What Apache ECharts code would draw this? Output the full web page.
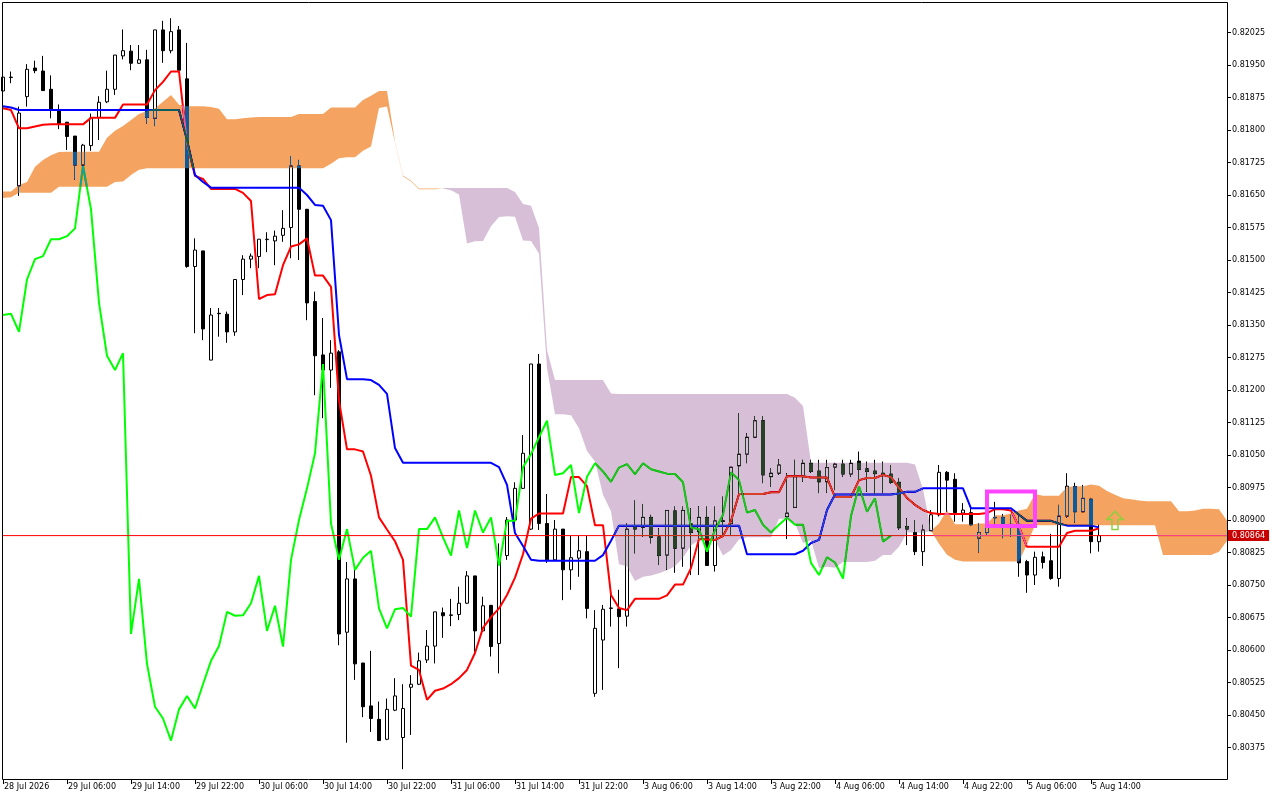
<!DOCTYPE html>
<html><head><meta charset="utf-8">
<script src="https://cdn.jsdelivr.net/npm/echarts@6/dist/echarts.min.js"></script>
<style>html,body{margin:0;padding:0;background:#fff}#c{width:1280px;height:800px}</style>
</head><body><div id="c"></div>
<script>
// ---- time axis ----
const tickLabels = ['28 Jul 2026','29 Jul 06:00','29 Jul 14:00','29 Jul 22:00','30 Jul 06:00','30 Jul 14:00','30 Jul 22:00','31 Jul 06:00','31 Jul 14:00','31 Jul 22:00','3 Aug 06:00','3 Aug 14:00','3 Aug 22:00','4 Aug 06:00','4 Aug 14:00','4 Aug 22:00','5 Aug 06:00','5 Aug 14:00'];
const barsPerLabel = 8;
const futureBars = 16;

// ---- OHLC (H1) ----
const open = [0.81890,0.81922,0.81671,0.81877,0.81943,0.81936,0.81894,0.81845,0.81818,0.81786,
0.81719,0.81764,0.81829,0.81865,0.81894,0.81971,0.81982,0.81954,0.81962,0.81827,
0.82031,0.81983,0.82031,0.81918,0.81485,0.81521,0.81269,0.81377,0.81375,0.81334,
0.81455,0.81502,0.81508,0.81547,0.81544,0.81557,0.81575,0.81717,0.81617,0.81404,
0.81281,0.81246,0.81288,0.80641,0.80764,0.80570,0.80471,0.80440,0.80394,0.80461,
0.80398,0.80514,0.80521,0.80577,0.80609,0.80686,0.80681,0.80682,0.80708,0.80771,
0.80644,0.80703,0.80615,0.80818,0.80900,0.80973,0.80879,0.81260,0.80892,0.80808,
0.80879,0.80785,0.80812,0.80827,0.80500,0.80623,0.80696,0.80695,0.80678,0.80884,
0.80883,0.80906,0.80861,0.80819,0.80921,0.80835,0.80891,0.80873,0.80906,0.80795,
0.80897,0.80892,0.81025,0.81052,0.81091,0.81129,0.81000,0.81008,0.80908,0.80929,
0.81000,0.81031,0.81013,0.80988,0.81022,0.81029,0.81006,0.81036,0.81018,0.81013,
0.81008,0.81006,0.80987,0.80885,0.80871,0.80827,0.80875,0.80912,0.81010,0.80994,
0.80916,0.80917,0.80858,0.80871,0.80906,0.80906,0.80890,0.80890,0.80804,0.80773,
0.80815,0.80806,0.80765,0.80909,0.80977,0.80919,0.80948,0.80850];
const high = [0.81927,0.81935,0.81854,0.81952,0.81960,0.81971,0.81926,0.81859,0.81818,0.81786,
0.81768,0.81838,0.81878,0.81937,0.81973,0.82032,0.81996,0.81996,0.81985,0.82031,
0.82052,0.82058,0.82040,0.82001,0.81550,0.81521,0.81389,0.81389,0.81381,0.81456,
0.81511,0.81515,0.81548,0.81564,0.81568,0.81615,0.81740,0.81731,0.81618,0.81427,
0.81366,0.81315,0.81292,0.80803,0.80785,0.80570,0.80598,0.80481,0.80488,0.80535,
0.80521,0.80542,0.80594,0.80646,0.80688,0.80698,0.80718,0.80746,0.80782,0.80771,
0.80723,0.80704,0.80846,0.80907,0.80987,0.81096,0.81260,0.81283,0.80960,0.80900,
0.80879,0.80863,0.80863,0.80863,0.80692,0.80704,0.80739,0.80739,0.80892,0.80945,
0.80937,0.80912,0.80881,0.80923,0.80931,0.80931,0.80927,0.80932,0.80931,0.80931,
0.80954,0.81022,0.81146,0.81100,0.81140,0.81140,0.81019,0.81040,0.81008,0.81039,
0.81039,0.81039,0.81039,0.81039,0.81032,0.81039,0.81039,0.81058,0.81035,0.81039,
0.81035,0.81027,0.80997,0.80904,0.80900,0.80889,0.80923,0.81027,0.81013,0.81008,
0.80939,0.80931,0.80892,0.80916,0.80942,0.80914,0.80912,0.80909,0.80808,0.80827,
0.80827,0.80868,0.80935,0.81008,0.80986,0.80981,0.80951,0.80889];
const low = [0.81885,0.81908,0.81648,0.81854,0.81931,0.81890,0.81827,0.81802,0.81754,0.81685,
0.81717,0.81752,0.81777,0.81862,0.81881,0.81963,0.81938,0.81953,0.81815,0.81809,
0.81955,0.81977,0.81938,0.81482,0.81331,0.81315,0.81269,0.81323,0.81309,0.81325,
0.81419,0.81481,0.81481,0.81518,0.81488,0.81542,0.81504,0.81500,0.81361,0.81188,
0.81135,0.81205,0.80611,0.80386,0.80531,0.80445,0.80411,0.80390,0.80392,0.80459,
0.80325,0.80404,0.80519,0.80570,0.80569,0.80628,0.80655,0.80669,0.80706,0.80596,
0.80642,0.80585,0.80546,0.80808,0.80877,0.80972,0.80877,0.80877,0.80801,0.80805,
0.80715,0.80739,0.80769,0.80673,0.80492,0.80508,0.80654,0.80558,0.80654,0.80823,
0.80861,0.80846,0.80796,0.80785,0.80778,0.80792,0.80773,0.80773,0.80794,0.80781,
0.80865,0.80865,0.80958,0.81031,0.81089,0.80985,0.80977,0.81004,0.80856,0.80928,
0.80988,0.81009,0.80962,0.80963,0.80969,0.81000,0.81000,0.80992,0.80965,0.80958,
0.80962,0.80983,0.80877,0.80842,0.80819,0.80794,0.80875,0.80908,0.80919,0.80896,
0.80896,0.80886,0.80825,0.80865,0.80892,0.80858,0.80861,0.80769,0.80732,0.80750,
0.80788,0.80762,0.80746,0.80905,0.80894,0.80918,0.80823,0.80827];
const close = [0.81922,0.81921,0.81839,0.81940,0.81937,0.81891,0.81845,0.81814,0.81785,0.81719,
0.81765,0.81828,0.81864,0.81894,0.81973,0.81983,0.81954,0.81962,0.81829,0.82031,
0.81983,0.82027,0.81938,0.81485,0.81523,0.81341,0.81373,0.81376,0.81334,0.81455,
0.81502,0.81509,0.81548,0.81548,0.81555,0.81573,0.81717,0.81617,0.81401,0.81279,
0.81246,0.81285,0.80637,0.80764,0.80568,0.80469,0.80442,0.80391,0.80463,0.80494,
0.80465,0.80521,0.80575,0.80609,0.80688,0.80679,0.80680,0.80708,0.80771,0.80644,
0.80702,0.80608,0.80808,0.80900,0.80973,0.81054,0.81260,0.80892,0.80808,0.80879,
0.80785,0.80813,0.80829,0.80696,0.80650,0.80694,0.80697,0.80677,0.80879,0.80879,
0.80906,0.80860,0.80818,0.80922,0.80835,0.80922,0.80871,0.80906,0.80795,0.80898,
0.80898,0.81022,0.81052,0.81091,0.81129,0.81004,0.81008,0.81027,0.80916,0.81000,
0.81031,0.81012,0.80988,0.81021,0.81029,0.81006,0.81031,0.81017,0.81012,0.81007,
0.81006,0.80987,0.80882,0.80879,0.80827,0.80877,0.80912,0.81010,0.80992,0.80917,
0.80923,0.80889,0.80871,0.80889,0.80905,0.80889,0.80889,0.80801,0.80773,0.80814,
0.80802,0.80765,0.80909,0.80978,0.80919,0.80950,0.80850,0.80864];

// ---- Ichimoku lines ----
const tenkan = [0.81850,0.81846,0.81804,0.81804,0.81808,0.81812,0.81813,0.81813,0.81813,0.81813,
0.81813,0.81828,0.81828,0.81828,0.81828,0.81859,0.81859,0.81859,0.81859,0.81892,
0.81911,0.81935,0.81935,0.81770,0.81694,0.81687,0.81664,0.81664,0.81664,0.81664,
0.81655,0.81636,0.81410,0.81419,0.81421,0.81488,0.81531,0.81536,0.81550,0.81464,
0.81464,0.81438,0.81176,0.81063,0.81063,0.81058,0.81002,0.80906,0.80878,0.80851,
0.80808,0.80564,0.80554,0.80485,0.80506,0.80511,0.80521,0.80535,0.80554,0.80593,
0.80651,0.80676,0.80696,0.80727,0.80767,0.80821,0.80903,0.80915,0.80915,0.80915,
0.80915,0.80999,0.80999,0.80978,0.80888,0.80888,0.80727,0.80697,0.80692,0.80718,
0.80718,0.80718,0.80718,0.80726,0.80751,0.80751,0.80789,0.80856,0.80855,0.80854,
0.80863,0.80898,0.80960,0.80960,0.80960,0.80960,0.80964,0.80964,0.81001,0.81001,
0.81001,0.80998,0.80998,0.80998,0.80953,0.80953,0.80953,0.80992,0.80997,0.80997,
0.81004,0.80999,0.80974,0.80951,0.80935,0.80923,0.80916,0.80914,0.80914,0.80914,
0.80914,0.80914,0.80914,0.80916,0.80925,0.80925,0.80922,0.80884,0.80838,0.80838,
0.80838,0.80838,0.80838,0.80870,0.80875,0.80875,0.80875,0.80881];
const kijun = [0.81855,0.81852,0.81846,0.81846,0.81846,0.81846,0.81846,0.81846,0.81846,0.81846,
0.81846,0.81846,0.81846,0.81846,0.81846,0.81846,0.81846,0.81846,0.81846,0.81846,
0.81846,0.81846,0.81846,0.81777,0.81696,0.81680,0.81667,0.81667,0.81667,0.81667,
0.81667,0.81667,0.81667,0.81667,0.81667,0.81667,0.81667,0.81667,0.81650,0.81627,
0.81625,0.81592,0.81327,0.81225,0.81225,0.81225,0.81223,0.81212,0.81191,0.81066,
0.81032,0.81032,0.81032,0.81032,0.81032,0.81032,0.81032,0.81032,0.81032,0.81032,
0.81032,0.81032,0.81022,0.80981,0.80870,0.80840,0.80808,0.80806,0.80806,0.80806,
0.80806,0.80806,0.80806,0.80806,0.80806,0.80819,0.80852,0.80887,0.80887,0.80887,
0.80887,0.80887,0.80887,0.80887,0.80887,0.80887,0.80887,0.80887,0.80887,0.80887,
0.80887,0.80887,0.80887,0.80821,0.80821,0.80821,0.80821,0.80821,0.80821,0.80821,
0.80829,0.80847,0.80854,0.80923,0.80959,0.80959,0.80959,0.80959,0.80959,0.80959,
0.80959,0.80959,0.80961,0.80965,0.80965,0.80973,0.80973,0.80973,0.80973,0.80973,
0.80973,0.80927,0.80927,0.80927,0.80927,0.80927,0.80927,0.80912,0.80898,0.80898,
0.80898,0.80898,0.80892,0.80887,0.80887,0.80887,0.80887,0.80883];
const senkouA = [0.81658,0.81658,0.81673,0.81680,0.81715,0.81731,0.81742,0.81749,0.81750,0.81750,
0.81750,0.81750,0.81750,0.81782,0.81798,0.81809,0.81823,0.81837,0.81844,0.81850,
0.81865,0.81881,0.81858,0.81855,0.81855,0.81855,0.81853,0.81849,0.81825,0.81825,
0.81827,0.81829,0.81830,0.81830,0.81830,0.81830,0.81830,0.81837,0.81837,0.81837,
0.81837,0.81852,0.81852,0.81852,0.81852,0.81869,0.81879,0.81890,0.81890,0.81773,
0.81695,0.81683,0.81665,0.81665,0.81665,0.81665,0.81661,0.81651,0.81538,0.81543,
0.81544,0.81578,0.81599,0.81601,0.81600,0.81545,0.81544,0.81515,0.81251,0.81144,
0.81144,0.81142,0.81112,0.81059,0.81035,0.80958,0.80920,0.80798,0.80793,0.80759,
0.80769,0.80772,0.80777,0.80784,0.80793,0.80813,0.80841,0.80854,0.80859,0.80854,
0.80818,0.80831,0.80855,0.80860,0.80860,0.80860,0.80860,0.80903,0.80903,0.80892,
0.80847,0.80853,0.80789,0.80792,0.80790,0.80803,0.80803,0.80803,0.80803,0.80806,
0.80819,0.80819,0.80838,0.80871,0.80871,0.80870,0.80875,0.80892,0.80923,0.80890,
0.80890,0.80890,0.80892,0.80892,0.80911,0.80911,0.80915,0.80922,0.80926,0.80960,
0.80956,0.80956,0.80956,0.80976,0.80978,0.80978,0.80982,0.80979,0.80967,0.80958,
0.80950,0.80948,0.80945,0.80943,0.80943,0.80943,0.80943,0.80920,0.80920,0.80922,
0.80926,0.80926,0.80925,0.80898];
const senkouB = [0.81643,0.81645,0.81655,0.81655,0.81655,0.81655,0.81655,0.81669,0.81669,0.81669,
0.81669,0.81669,0.81669,0.81669,0.81680,0.81681,0.81696,0.81708,0.81712,0.81712,
0.81712,0.81712,0.81712,0.81712,0.81712,0.81712,0.81712,0.81712,0.81712,0.81712,
0.81712,0.81712,0.81712,0.81712,0.81712,0.81712,0.81712,0.81712,0.81712,0.81712,
0.81712,0.81722,0.81735,0.81737,0.81737,0.81752,0.81762,0.81851,0.81854,0.81771,
0.81693,0.81681,0.81663,0.81663,0.81663,0.81666,0.81666,0.81666,0.81666,0.81666,
0.81666,0.81666,0.81666,0.81666,0.81657,0.81629,0.81625,0.81574,0.81292,0.81223,
0.81223,0.81223,0.81223,0.81223,0.81223,0.81223,0.81192,0.81191,0.81191,0.81191,
0.81191,0.81191,0.81191,0.81191,0.81191,0.81191,0.81191,0.81191,0.81191,0.81191,
0.81191,0.81191,0.81191,0.81191,0.81191,0.81191,0.81191,0.81191,0.81191,0.81182,
0.81163,0.81032,0.81032,0.81032,0.81032,0.81032,0.81032,0.81032,0.81032,0.81032,
0.81032,0.81032,0.81032,0.81032,0.81028,0.80971,0.80876,0.80845,0.80820,0.80808,
0.80804,0.80804,0.80804,0.80804,0.80804,0.80804,0.80804,0.80804,0.80844,0.80888,
0.80888,0.80888,0.80888,0.80888,0.80888,0.80888,0.80888,0.80888,0.80888,0.80888,
0.80888,0.80888,0.80888,0.80888,0.80888,0.80819,0.80819,0.80819,0.80819,0.80819,
0.80819,0.80819,0.80827,0.80852];
const kijunShift = 26;

// ---- chart objects ----
const rectFrom = [123, 0.80966];
const rectTo = [129, 0.80886];
const arrowAt = [139, 0.80899];

const FONT = 'DejaVu Sans';
const nBars = close.length;
const nSlots = nBars + futureBars;
const cats = [];
for (let i = 0; i < nSlots; i++) cats.push(String(i));
const chikou = close.slice(kijunShift);
const lastPrice = close[nBars - 1];
const bidLine = cats.map(() => lastPrice);

const ORANGE_INV = '#0b5b9f';  // difference-blend -> sandybrown on white
const THISTLE_INV = '#274027'; // difference-blend -> thistle on white

function cloudItem(params, api) {
  if (params.dataIndex !== 0) return null;
  const polys = [];
  let cur = null;
  for (let j = 0; j < senkouA.length; j++) {
    const a = senkouA[j], b = senkouB[j];
    const up = a >= b;
    if (!cur) { cur = {up, top: [[j, a]], bot: [[j, b]]}; continue; }
    if (up === cur.up) { cur.top.push([j, a]); cur.bot.push([j, b]); }
    else {
      const dp = senkouA[j - 1] - senkouB[j - 1], d = a - b;
      const t = dp / (dp - d);
      const xc = j - 1 + t, yc = senkouA[j - 1] + t * (a - senkouA[j - 1]);
      cur.top.push([xc, yc]); cur.bot.push([xc, yc]);
      polys.push(cur);
      cur = {up, top: [[xc, yc], [j, a]], bot: [[xc, yc], [j, b]]};
    }
  }
  polys.push(cur);
  return {
    type: 'group',
    children: polys.map(p => {
      const pts = p.top.map(v => api.coord(v)).concat(p.bot.slice().reverse().map(v => api.coord(v)));
      return {type: 'polygon', shape: {points: pts}, style: {fill: p.up ? ORANGE_INV : THISTLE_INV, stroke: null, lineWidth: 0}};
    })
  };
}

const chart = echarts.init(document.getElementById('c'), null, {renderer: 'canvas', width: 1280, height: 800});
chart.setOption({
  animation: false,
  backgroundColor: '#ffffff',
  textStyle: {fontFamily: FONT},
  tooltip: {show: false},
  grid: {left: 3, right: 53, top: 0, height: 780, containLabel: false, outerBoundsMode: 'none'},
  xAxis: {
    type: 'category', data: cats, boundaryGap: false,
    axisLine: {show: false},
    axisTick: {show: true, length: 4, interval: (idx) => idx % barsPerLabel === 0 && idx < nBars, lineStyle: {color: '#000', width: 1}},
    axisLabel: {interval: barsPerLabel - 1, formatter: (v, idx) => tickLabels[idx / barsPerLabel] || '', align: 'left', margin: 3, color: '#000', fontFamily: FONT, fontSize: 8, padding: [0, 0, 0, 1]},
    splitLine: {show: false}
  },
  yAxis: {
    type: 'value', position: 'right', min: 0.80300, max: 0.82100, interval: 0.00075,
    axisLine: {show: false},
    axisTick: {show: true, length: 4, lineStyle: {color: '#000', width: 1}},
    axisLabel: {formatter: v => v.toFixed(5), margin: 5, color: '#000', fontFamily: FONT, fontSize: 8, showMinLabel: false, showMaxLabel: false},
    splitLine: {show: false}
  },
  graphic: [{type: 'rect', silent: true, z: 100, shape: {x: 2.5, y: 2.5, width: 1225, height: 777}, style: {fill: null, stroke: '#000', lineWidth: 1}}],
  series: [
    {
      type: 'candlestick', name: 'EURCHF', z: 2, silent: true, barWidth: 4, clip: true,
      data: open.map((o, i) => [o, close[i], low[i], high[i]]),
      itemStyle: {color: '#ffffff', color0: '#000000', borderColor: '#000000', borderColor0: '#000000', borderColorDoji: '#000000', borderWidth: 1},
      emphasis: {disabled: true},
      markArea: {
        silent: true, z: 8,
        itemStyle: {color: 'rgba(0,0,0,0)', borderColor: '#ff44ff', borderWidth: 4},
        label: {show: false}, emphasis: {disabled: true},
        data: [[{coord: rectFrom}, {coord: rectTo}]]
      },
      markPoint: {
        silent: true, z: 8,
        symbol: 'path://M8,0 L16,8 L11,8 L11,18 L5,18 L5,8 L0,8 Z', symbolSize: [16, 18],
        itemStyle: {color: 'rgba(0,0,0,0)', borderColor: '#8ccf3c', borderWidth: 1.5},
        label: {show: false}, emphasis: {disabled: true},
        data: [{coord: arrowAt}]
      }
    },
    {type: 'line', name: 'Tenkan-sen', data: tenkan, z: 3, silent: true, symbol: 'none', lineStyle: {color: '#ff0000', width: 2}, emphasis: {disabled: true}},
    {type: 'line', name: 'Kijun-sen', data: kijun, z: 3, silent: true, symbol: 'none', lineStyle: {color: '#0000ff', width: 2}, emphasis: {disabled: true}},
    {type: 'line', name: 'Chikou Span', data: chikou, z: 3, silent: true, symbol: 'none', lineStyle: {color: '#00ff00', width: 2}, emphasis: {disabled: true}},
    {type: 'line', name: 'Bid', data: bidLine, z: 4, silent: true, symbol: 'none', lineStyle: {color: '#ff0000', width: 1}, emphasis: {disabled: true},
      markLine: {
        silent: true, z: 7, symbol: ['none', 'none'], animation: false, precision: 5,
        lineStyle: {color: 'rgba(255,0,0,0)', width: 1, opacity: 1},
        label: {show: true, position: 'end', distance: 1, opacity: 1, formatter: p => Number(p.value).toFixed(5), color: '#ffffff', backgroundColor: '#c80000', padding: [2, 4, 1, 4], fontFamily: FONT, fontSize: 8},
        emphasis: {disabled: true},
        data: [{yAxis: lastPrice}]
      }
    },
    {
      type: 'custom', name: 'Kumo', z: 6, silent: true, blendMode: 'difference', clip: true,
      data: senkouA.map((a, i) => [i, a, senkouB[i]]),
      encode: {x: 0, y: [1, 2]},
      renderItem: cloudItem
    }
  ]
});
</script>
</body></html>
